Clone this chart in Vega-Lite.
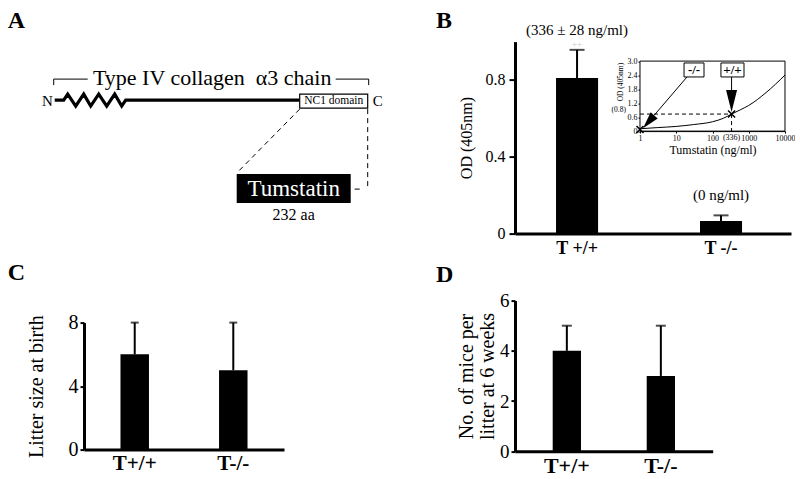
{
  "$schema": "https://vega.github.io/schema/vega-lite/v6.json",
  "background": "white",
  "padding": {"left": 7, "top": 8.6, "right": 0, "bottom": 0},
  "autosize": {"type": "pad"},
  "spacing": 35,
  "config": {
    "view": {"stroke": null},
    "font": "Liberation Serif",
    "axis": {"labelFont": "Liberation Serif", "titleFont": "Liberation Serif", "labelColor": "black", "titleColor": "black", "domainColor": "black", "tickColor": "black", "grid": false, "titleFontWeight": "normal", "domainWidth": 3, "tickWidth": 2, "labelOverlap": false},
    "title": {"font": "Liberation Serif", "fontSize": 24, "fontWeight": "bold", "anchor": "start", "frame": "group", "color": "black"},
    "text": {"font": "Liberation Serif", "color": "black"}
  },
  "hconcat": [
    {
      "spacing": 0,
      "vconcat": [
        {
          "title": {"text": "A", "offset": 8.9, "dx": -76.3},
          "width": 316.7,
          "height": 218.1,
          "encoding": {
            "x": {"field": "x", "type": "quantitative", "scale": {"domain": [76.3, 393], "nice": false, "zero": false}, "axis": null},
            "y": {"field": "y", "type": "quantitative", "scale": {"domain": [6.5, 224.6], "nice": false, "zero": false, "reverse": true}, "axis": null}
          },
          "layer": [
            {
              "data": {"values": [
                {"x": 47, "y": 65, "o": 0}, {"x": 56, "y": 65, "o": 1}, {"x": 60, "y": 59, "o": 2}, {"x": 68, "y": 71, "o": 3},
                {"x": 76, "y": 59, "o": 4}, {"x": 83, "y": 71, "o": 5}, {"x": 91, "y": 59, "o": 6}, {"x": 99, "y": 71, "o": 7},
                {"x": 107, "y": 59, "o": 8}, {"x": 114, "y": 71, "o": 9}, {"x": 118, "y": 65, "o": 10}, {"x": 292, "y": 65, "o": 11}
              ]},
              "mark": {"type": "line", "color": "black", "strokeWidth": 3.2, "strokeJoin": "miter"},
              "encoding": {"order": {"field": "o"}}
            },
            {
              "data": {"values": [
                {"x": 46, "y": 50, "x2": 46, "y2": 44}, {"x": 46, "y": 44, "x2": 80, "y2": 44},
                {"x": 328, "y": 44, "x2": 361, "y2": 44}, {"x": 361, "y": 44, "x2": 361, "y2": 50}
              ]},
              "mark": {"type": "rule", "color": "black", "strokeWidth": 1},
              "encoding": {"x2": {"field": "x2"}, "y2": {"field": "y2"}}
            },
            {
              "data": {"values": [
                {"x": 292, "y": 74, "x2": 229, "y2": 138}, {"x": 360, "y": 74, "x2": 360, "y2": 152}, {"x": 347, "y": 154, "x2": 353, "y2": 154}
              ]},
              "mark": {"type": "rule", "color": "black", "strokeWidth": 1, "strokeDash": [5, 4]},
              "encoding": {"x2": {"field": "x2"}, "y2": {"field": "y2"}}
            },
            {
              "data": {"values": [{"x": 292, "y": 59, "x2": 360, "y2": 73}]},
              "mark": {"type": "rect", "fill": "white", "stroke": "black", "strokeWidth": 1.2},
              "encoding": {"x2": {"field": "x2"}, "y2": {"field": "y2"}}
            },
            {
              "data": {"values": [{"x": 229, "y": 139, "x2": 343, "y2": 168}]},
              "mark": {"type": "rect", "fill": "black"},
              "encoding": {"x2": {"field": "x2"}, "y2": {"field": "y2"}}
            },
            {
              "data": {"values": [{"x": 204.5, "y": 50, "t": "Type IV collagen \u00a0α3 chain"}]},
              "mark": {"type": "text", "font": "Liberation Serif", "fontSize": 22, "baseline": "alphabetic", "align": "center"},
              "encoding": {"text": {"field": "t"}}
            },
            {
              "data": {"values": [{"x": 45, "y": 66, "t": "N"}]},
              "mark": {"type": "text", "font": "Liberation Serif", "fontSize": 15, "baseline": "middle", "align": "right"},
              "encoding": {"text": {"field": "t"}}
            },
            {
              "data": {"values": [{"x": 365, "y": 66, "t": "C"}]},
              "mark": {"type": "text", "font": "Liberation Serif", "fontSize": 15, "baseline": "middle", "align": "left"},
              "encoding": {"text": {"field": "t"}}
            },
            {
              "data": {"values": [{"x": 326, "y": 66, "t": "NC1 domain"}]},
              "mark": {"type": "text", "font": "Liberation Serif", "fontSize": 11.5, "baseline": "middle", "align": "center"},
              "encoding": {"text": {"field": "t"}}
            },
            {
              "data": {"values": [{"x": 286, "y": 154, "t": "Tumstatin"}]},
              "mark": {"type": "text", "font": "Liberation Serif", "fontSize": 23, "baseline": "middle", "align": "center", "color": "white"},
              "encoding": {"text": {"field": "t"}}
            },
            {
              "data": {"values": [{"x": 286, "y": 180, "t": "232 aa"}]},
              "mark": {"type": "text", "font": "Liberation Serif", "fontSize": 16, "baseline": "middle", "align": "center"},
              "encoding": {"text": {"field": "t"}}
            }
          ]
        },
        {
          "title": {"text": "C", "offset": 27.1, "dx": -76.3},
          "width": 200,
          "height": 127,
          "data": {"values": [{"g": "T+/+", "v": 6, "hi": 8}, {"g": "T-/-", "v": 5, "hi": 8}]},
          "encoding": {
            "x": {"field": "g", "type": "nominal", "sort": null, "scale": {"paddingInner": 0.711, "paddingOuter": 0.37},
              "axis": {"title": null, "ticks": false, "labelAngle": 0, "labelFont": "Liberation Serif", "labelFontWeight": "bold", "labelFontSize": 21, "labelPadding": 3}}
          },
          "layer": [
            {
              "mark": {"type": "bar", "color": "black"},
              "encoding": {"y": {"field": "v", "type": "quantitative", "scale": {"domain": [0, 8], "nice": false},
                "axis": {"title": "Litter size at birth", "values": [0, 2, 4, 6, 8], "tickSize": 4, "labelFont": "Liberation Serif", "labelFontSize": 20, "labelPadding": 2, "titleFont": "Liberation Serif", "titleFontSize": 20, "titlePadding": 22}}}
            },
            {
              "mark": {"type": "rule", "color": "black", "strokeWidth": 2},
              "encoding": {"y": {"field": "v", "type": "quantitative"}, "y2": {"field": "hi"}}
            },
            {
              "mark": {"type": "tick", "color": "black", "thickness": 2, "size": 8},
              "encoding": {"y": {"field": "hi", "type": "quantitative"}}
            }
          ]
        }
      ]
    },
    {
      "spacing": 5,
      "vconcat": [
        {
          "title": {"text": "B", "offset": -10.35, "dx": -79},
          "width": 276,
          "height": 192,
          "layer": [
            {
              "data": {"values": [
                {"g": "T +/+", "od": 0.81, "hi": 0.957, "lab": "(336 ± 28 ng/ml)", "sig": "++"},
                {"g": "T -/-", "od": 0.065, "hi": 0.095, "lab": "(0 ng/ml)", "sig": ""}
              ]},
              "encoding": {
                "x": {"field": "g", "type": "nominal", "sort": null,
                  "scale": {"paddingInner": 0.708, "paddingOuter": 0.3125, "align": 0.456},
                  "axis": {"title": null, "ticks": false, "labelAngle": 0, "labelFont": "Liberation Serif", "labelFontWeight": "bold", "labelFontSize": 18, "labelPadding": 6}}
              },
              "layer": [
                {
                  "mark": {"type": "bar", "color": "black"},
                  "encoding": {"y": {"field": "od", "type": "quantitative", "scale": {"domain": [0, 1], "nice": false},
                    "axis": {"title": "OD (405nm)", "values": [0, 0.2, 0.4, 0.6, 0.8, 1],
                      "labelExpr": "datum.value == 0 ? '0' : (abs(datum.value - 0.4) < 0.001 || abs(datum.value - 0.8) < 0.001) ? format(datum.value, '.1f') : ''",
                      "tickSize": 6, "labelFont": "Liberation Serif", "labelFontSize": 16, "labelPadding": 4, "titleFont": "Liberation Serif", "titleFontSize": 16, "titlePadding": 10}}}
                },
                {
                  "mark": {"type": "rule", "color": "black", "strokeWidth": 2},
                  "encoding": {"y": {"field": "od", "type": "quantitative"}, "y2": {"field": "hi"}}
                },
                {
                  "mark": {"type": "tick", "color": "black", "thickness": 2, "size": 15},
                  "encoding": {"y": {"field": "hi", "type": "quantitative"}}
                },
                {
                  "mark": {"type": "text", "font": "Liberation Serif", "fontSize": 9, "dy": -6, "baseline": "middle", "color": "#c8c8c8"},
                  "encoding": {"y": {"field": "hi", "type": "quantitative"}, "text": {"field": "sig"}}
                },
                {
                  "mark": {"type": "text", "font": "Liberation Serif", "fontSize": 15, "dy": -20, "baseline": "middle"},
                  "encoding": {"y": {"field": "hi", "type": "quantitative"}, "text": {"field": "lab"}}
                }
              ]
            },
            {
              "encoding": {
                "x": {"field": "x", "type": "quantitative", "scale": {"type": "log", "domain": [1, 10000], "range": [125, 270], "nice": false},
                  "axis": {"orient": "bottom", "offset": -102.5, "title": "Tumstatin (ng/ml)", "values": [1, 10, 100, 1000, 10000], "format": "d",
                    "labelFlush": false, "labelFont": "Liberation Serif", "labelFontSize": 8, "labelPadding": 1, "tickSize": 2, "tickWidth": 1, "domainWidth": 1, "titleFont": "Liberation Serif", "titleFontSize": 12, "titlePadding": 2}},
                "y": {"field": "y", "type": "quantitative", "scale": {"domain": [0, 3], "range": [89.5, 19.5], "nice": false, "zero": false},
                  "axis": {"orient": "left", "offset": -125, "title": "OD (405nm)", "values": [0, 0.6, 1.2, 1.8, 2.4, 3],
                    "labelExpr": "datum.value == 0 ? '0' : format(datum.value, '.1f')",
                    "labelFont": "Liberation Serif", "labelFontSize": 8, "labelPadding": 1, "tickSize": 2, "tickWidth": 1, "domainWidth": 1, "titleFont": "Liberation Serif", "titleFontSize": 7.5, "titlePadding": 2, "titleY": 40}}
              },
              "layer": [
                {
                  "data": {"values": [{"x": 1, "x2": 10000, "y": 0, "y2": 3}]},
                  "mark": {"type": "rect", "fill": "white", "stroke": "black", "strokeWidth": 1},
                  "encoding": {"x2": {"field": "x2"}, "y2": {"field": "y2"}}
                },
                {
                  "data": {"values": [
                    {"x": 1, "y": 0.1}, {"x": 3, "y": 0.15}, {"x": 10, "y": 0.2}, {"x": 30, "y": 0.28}, {"x": 100, "y": 0.4},
                    {"x": 200, "y": 0.55}, {"x": 336, "y": 0.73}, {"x": 600, "y": 0.92}, {"x": 1000, "y": 1.1}, {"x": 3000, "y": 1.65}, {"x": 10000, "y": 2.4}
                  ]},
                  "mark": {"type": "line", "color": "black", "strokeWidth": 1, "interpolate": "monotone"}
                },
                {
                  "data": {"values": [{"x": 1, "x2": 336, "y": 0.73, "y2": 0.73}, {"x": 336, "x2": 336, "y": 0.73, "y2": 0}]},
                  "mark": {"type": "rule", "color": "black", "strokeWidth": 1, "strokeDash": [4, 3]},
                  "encoding": {"x2": {"field": "x2"}, "y2": {"field": "y2"}}
                },
                {
                  "data": {"values": [{"x": 19.8, "x2": 2.47, "y": 2.32, "y2": 0.68}, {"x": 336, "x2": 336, "y": 2.32, "y2": 1.5}]},
                  "mark": {"type": "rule", "color": "black", "strokeWidth": 1},
                  "encoding": {"x2": {"field": "x2"}, "y2": {"field": "y2"}}
                },
                {
                  "data": {"values": [{"x": 1.73, "y": 0.4}]},
                  "mark": {"type": "point", "shape": "M0,1L0.55,-1L-0.55,-1Z", "filled": true, "color": "black", "opacity": 1, "size": 289, "angle": 41}
                },
                {
                  "data": {"values": [{"x": 336, "y": 1.29}]},
                  "mark": {"type": "point", "shape": "M0,1L0.5,-1L-0.5,-1Z", "filled": true, "color": "black", "opacity": 1, "size": 484}
                },
                {
                  "data": {"values": [{"x": 1, "y": 0.07}, {"x": 336, "y": 0.73}]},
                  "mark": {"type": "point", "shape": "M-1,-1L1,1M-1,1L1,-1", "filled": false, "color": "black", "opacity": 1, "strokeWidth": 1.5, "size": 49}
                },
                {
                  "data": {"values": [{"x": 16.4, "x2": 58.3, "y": 2.32, "y2": 2.92}, {"x": 171, "x2": 740, "y": 2.32, "y2": 2.92}]},
                  "mark": {"type": "rect", "fill": "white", "stroke": "black", "strokeWidth": 1},
                  "encoding": {"x2": {"field": "x2"}, "y2": {"field": "y2"}}
                },
                {
                  "data": {"values": [{"x": 31, "y": 2.62, "t": "-/-"}, {"x": 356, "y": 2.62, "t": "+/+"}]},
                  "mark": {"type": "text", "font": "Liberation Serif", "fontSize": 13, "fontWeight": "bold", "baseline": "middle", "align": "center"},
                  "encoding": {"text": {"field": "t"}}
                },
                {
                  "data": {"values": [{"x": 336, "y": -0.28, "t": "(336)"}]},
                  "mark": {"type": "text", "font": "Liberation Serif", "fontSize": 8, "baseline": "middle", "align": "center"},
                  "encoding": {"text": {"field": "t"}}
                },
                {
                  "data": {"values": [{"x": 0.41, "y": 0.92, "t": "(0.8)"}]},
                  "mark": {"type": "text", "font": "Liberation Serif", "fontSize": 7.5, "baseline": "middle", "align": "right"},
                  "encoding": {"text": {"field": "t"}}
                }
              ]
            }
          ],
          "resolve": {"scale": {"x": "independent", "y": "independent"}, "axis": {"x": "independent", "y": "independent"}}
        },
        {
          "title": {"text": "D", "offset": 4.9, "dx": -79},
          "width": 197.7,
          "height": 150.7,
          "data": {"values": [{"g": "T+/+", "v": 4, "hi": 5}, {"g": "T-/-", "v": 3, "hi": 5}]},
          "encoding": {
            "x": {"field": "g", "type": "nominal", "sort": null, "scale": {"paddingInner": 0.699, "paddingOuter": 0.401},
              "axis": {"title": null, "ticks": false, "labelAngle": 0, "labelFont": "Liberation Serif", "labelFontWeight": "bold", "labelFontSize": 22, "labelPadding": 4}}
          },
          "layer": [
            {
              "mark": {"type": "bar", "color": "black"},
              "encoding": {"y": {"field": "v", "type": "quantitative", "scale": {"domain": [0, 6], "nice": false},
                "axis": {"title": ["No. of mice per", "litter at 6 weeks"], "values": [0, 2, 4, 6], "tickSize": 4, "labelFont": "Liberation Serif", "labelFontSize": 19, "labelPadding": 2, "titleFont": "Liberation Serif", "titleFontSize": 20, "titleLineHeight": 21, "titlePadding": 2}}}
            },
            {
              "mark": {"type": "rule", "color": "black", "strokeWidth": 2},
              "encoding": {"y": {"field": "v", "type": "quantitative"}, "y2": {"field": "hi"}}
            },
            {
              "mark": {"type": "tick", "color": "black", "thickness": 2, "size": 10},
              "encoding": {"y": {"field": "hi", "type": "quantitative"}}
            }
          ]
        }
      ]
    }
  ]
}
